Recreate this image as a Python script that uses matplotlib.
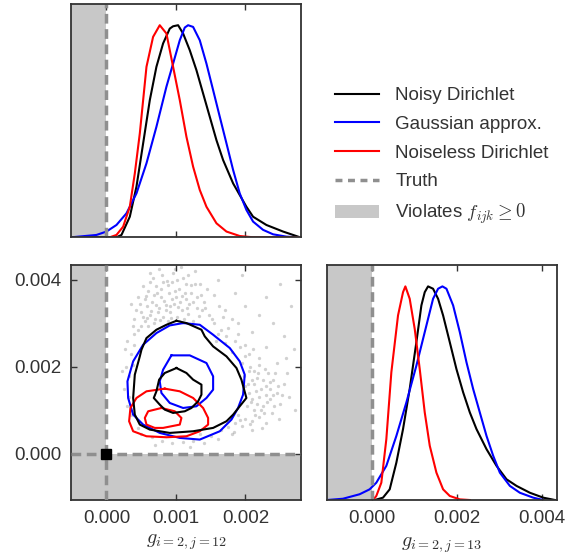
import numpy as np
import matplotlib
matplotlib.use("Agg")
from matplotlib import pyplot as plt
from matplotlib.lines import Line2D
from matplotlib.patches import Patch

plt.rcParams["font.family"] = ["Liberation Sans", "DejaVu Sans"]
plt.rcParams["mathtext.fontset"] = "cm"
plt.rcParams["font.size"] = 13

# all values in units of 1e-3
# marginal of g_{i=2,j=12} (top panel)
top_black_x = [-0.504, 0.144, 0.216, 0.336, 0.432, 0.528, 0.624, 0.719, 0.815, 0.911, 0.959, 1.031,
               1.103, 1.199, 1.295, 1.391, 1.487, 1.583, 1.679, 1.823, 2.014, 2.110, 2.302, 2.542, 2.758]
top_black_y = [0, 0, 0.011, 0.097, 0.239, 0.443, 0.647, 0.804, 0.914, 0.984, 0.995, 1.000,
               0.961, 0.882, 0.788, 0.678, 0.568, 0.458, 0.364, 0.254, 0.144, 0.097, 0.058, 0.027, 0.003]
top_blue_x = [-0.504, -0.144, 0.0, 0.144, 0.288, 0.432, 0.576, 0.719, 0.863, 0.959, 1.055, 1.127, 1.175,
              1.247, 1.343, 1.439, 1.535, 1.631, 1.727, 1.823, 1.918, 2.014, 2.110, 2.254, 2.398, 2.590, 2.758]
top_blue_y = [0, 0.011, 0.027, 0.058, 0.113, 0.207, 0.349, 0.521, 0.710, 0.819, 0.929, 0.989, 1.000,
              0.992, 0.929, 0.819, 0.694, 0.568, 0.443, 0.317, 0.207, 0.129, 0.074, 0.035, 0.014, 0.003, 0]
top_red_x = [0.048, 0.144, 0.240, 0.336, 0.408, 0.480, 0.576, 0.671, 0.767, 0.863, 0.959, 1.055,
             1.151, 1.247, 1.343, 1.439, 1.583, 1.727, 1.918, 2.110, 2.758]
top_red_y = [0, 0.011, 0.050, 0.144, 0.301, 0.490, 0.804, 0.945, 1.000, 0.961, 0.804, 0.647,
             0.474, 0.333, 0.223, 0.144, 0.066, 0.027, 0.006, 0, 0]

# marginal of g_{i=2,j=13} (bottom right panel)
br_black_x = [0.055, 0.251, 0.409, 0.566, 0.723, 0.880, 1.037, 1.155, 1.234, 1.312, 1.430, 1.548, 1.666,
              1.823, 1.980, 2.138, 2.295, 2.452, 2.688, 2.923, 3.159, 3.395, 3.709, 4.024, 4.299]
br_black_y = [0, 0.011, 0.050, 0.175, 0.332, 0.520, 0.739, 0.911, 0.973, 1.000, 0.989, 0.942, 0.864,
              0.739, 0.613, 0.504, 0.410, 0.332, 0.238, 0.160, 0.097, 0.066, 0.034, 0.011, 0]
br_blue_x = [-1.069, -0.692, -0.299, -0.063, 0.094, 0.330, 0.566, 0.802, 1.037, 1.273, 1.430, 1.548, 1.650,
             1.745, 1.902, 2.059, 2.216, 2.373, 2.530, 2.688, 2.845, 3.002, 3.238, 3.473, 3.788, 4.024]
br_blue_y = [0, 0.006, 0.027, 0.050, 0.081, 0.160, 0.300, 0.457, 0.629, 0.817, 0.942, 0.989, 1.000,
             0.989, 0.911, 0.786, 0.645, 0.520, 0.410, 0.300, 0.207, 0.128, 0.066, 0.034, 0.011, 0]
br_red_x = [0.016, 0.094, 0.212, 0.330, 0.448, 0.605, 0.723, 0.778, 0.880, 0.998, 1.116, 1.234,
            1.352, 1.509, 1.666, 1.823, 2.059, 2.295]
br_red_y = [0, 0.019, 0.081, 0.285, 0.598, 0.864, 0.973, 1.000, 0.942, 0.801, 0.613, 0.410,
            0.254, 0.128, 0.050, 0.019, 0.003, 0]

# joint contours (x = j=12, y = j=13)
black_outer_x = [1.007, 1.151, 1.367, 1.415, 1.535, 1.727, 1.871, 1.942, 2.014, 1.918, 1.823, 1.727, 1.535,
                 1.247, 0.911, 0.624, 0.480, 0.408, 0.384, 0.408, 0.480, 0.504, 0.576, 0.719, 0.863]
black_outer_y = [3.059, 3.006, 2.853, 2.700, 2.470, 2.241, 1.973, 1.706, 1.285, 1.094, 0.902, 0.750, 0.597,
                 0.520, 0.482, 0.558, 0.673, 0.902, 1.285, 1.820, 2.241, 2.394, 2.662, 2.853, 2.967]
black_inner_x = [1.007, 1.151, 1.247, 1.367, 1.367, 1.319, 1.223, 1.127, 0.959, 0.839, 0.767, 0.681,
                 0.719, 0.758, 0.839]
black_inner_y = [1.973, 1.859, 1.706, 1.591, 1.361, 1.208, 1.055, 0.979, 0.941, 1.017, 1.132, 1.285,
                 1.438, 1.706, 1.859]
blue_outer_x = [1.103, 1.343, 1.535, 1.775, 1.918, 1.990, 1.966, 1.894, 1.799, 1.631, 1.343, 1.055, 0.767,
                0.528, 0.384, 0.312, 0.302, 0.384, 0.528, 0.719, 0.911]
blue_outer_y = [3.006, 2.967, 2.738, 2.432, 2.126, 1.820, 1.361, 1.055, 0.788, 0.520, 0.329, 0.367, 0.482,
                0.673, 0.902, 1.285, 1.667, 2.126, 2.509, 2.776, 2.952]
blue_inner_x = [0.935, 1.199, 1.439, 1.535, 1.535, 1.439, 1.295, 1.103, 0.911, 0.791, 0.767, 0.815]
blue_inner_y = [2.264, 2.264, 2.088, 1.782, 1.476, 1.285, 1.094, 1.055, 1.170, 1.400, 1.667, 1.935]
red_outer_x = [0.839, 1.055, 1.247, 1.391, 1.463, 1.463, 1.343, 1.151, 0.863, 0.576, 0.384, 0.326,
               0.345, 0.432, 0.576]
red_outer_y = [1.499, 1.438, 1.285, 1.055, 0.826, 0.673, 0.520, 0.405, 0.382, 0.405, 0.520, 0.750,
               1.055, 1.285, 1.438]
red_inner_x = [0.791, 0.983, 1.079, 1.055, 0.935, 0.815, 0.695, 0.576, 0.552, 0.600]
red_inner_y = [1.055, 0.979, 0.826, 0.673, 0.635, 0.597, 0.597, 0.673, 0.826, 0.979]

# posterior samples (only those outside the outer contour show)
samples_x = [0.55, 0.62, 0.70, 0.75, 0.82, 0.88, 0.92, 0.97, 1.02, 1.08, 1.12, 1.18, 1.25, 1.30, 0.66,
             0.78, 0.85, 0.90, 1.00, 1.05, 1.15, 1.22, 0.58, 0.50, 0.45, 0.72, 0.95, 1.10, 0.80, 1.35,
             1.40, 1.48, 1.55, 0.40, 0.35, 0.60, 0.88, 1.28, 1.60, 0.98, 0.68, 0.83, 1.03, 1.19, 0.74,
             0.93, 1.14, 0.52, 1.45, 0.62, 0.45, 0.50, 0.40, 0.60,
             0.58, 0.64, 0.71, 0.77, 0.86, 0.94, 1.06, 1.16, 1.24, 1.33, 0.69, 0.79, 0.87, 0.99, 1.09,
             1.21, 1.31, 0.55, 0.63, 0.73, 0.91, 1.01, 1.13, 1.27, 1.38, 0.48, 0.57, 0.67, 0.81, 0.96,
             1.07, 1.17, 1.42, 1.52, 0.43, 0.38, 0.53, 0.76, 1.04, 1.36,
             0.30, 0.35, 0.28, 0.33, 0.25, 0.32, 0.30, 0.36, 0.40, 0.38, 0.27, 0.22,
             1.95, 2.05, 2.10, 2.00, 2.15, 2.20, 2.08, 2.25, 2.12, 2.30, 2.35, 2.18, 2.28, 2.40, 2.45,
             1.90, 2.00, 1.85, 1.95, 2.10, 2.20, 2.38, 2.50, 2.55, 2.05, 2.20, 1.80, 1.70, 1.85, 2.00,
             2.30, 2.45, 2.60, 2.62, 2.48, 1.75, 1.65, 2.05, 2.12, 2.25, 1.98, 2.35, 2.17, 2.30, 2.10,
             2.42, 1.60, 1.75, 1.90, 2.10,
             1.88, 1.96, 2.03, 2.09, 2.16, 2.23, 2.31, 2.39, 1.92, 2.02, 2.14, 2.27, 2.36, 2.06, 2.19,
             2.33, 1.99, 2.11, 2.24, 2.41, 2.52, 2.58, 1.83, 1.78, 1.92, 2.07, 2.29, 2.47, 2.13, 2.22,
             1.58, 1.65, 1.72, 1.80, 1.55, 1.68, 1.90, 1.62,
             2.20, 2.40, 2.55, 2.65, 2.30, 2.00, 1.85, 2.50, 2.70, 2.72, 1.70, 1.95,
             0.50, 0.65, 0.80, 0.95, 1.10, 1.25, 1.40, 1.50, 1.60, 0.45, 0.70, 1.20, 1.80, 1.35]
samples_y = [3.05, 3.20, 3.10, 3.35, 3.15, 3.05, 3.25, 3.45, 3.15, 3.30, 3.10, 3.22, 3.05, 3.35, 3.50,
             3.60, 3.42, 3.70, 3.60, 3.80, 3.55, 3.70, 3.40, 3.25, 3.60, 3.85, 3.95, 4.05, 4.10, 3.90,
             3.50, 3.20, 3.65, 3.10, 3.45, 3.75, 3.88, 4.20, 4.00, 4.25, 3.00, 3.52, 3.38, 3.45, 3.25,
             3.12, 3.90, 3.85, 3.80, 4.15, 2.85, 2.95, 2.75, 2.95,
             3.12, 3.28, 3.42, 3.08, 3.30, 3.55, 3.48, 3.35, 3.50, 3.18, 3.65, 3.80, 3.98, 3.75, 3.62,
             3.88, 3.60, 3.55, 3.95, 3.70, 3.40, 4.00, 3.70, 3.90, 3.30, 3.45, 3.62, 4.05, 3.95, 4.15,
             4.30, 4.10, 3.35, 3.10, 3.30, 2.95, 3.15, 4.25, 3.05, 3.65,
             2.60, 2.30, 2.00, 1.80, 1.50, 1.30, 1.10, 0.90, 2.50, 2.05, 2.40, 1.90,
             2.10, 1.90, 1.70, 1.55, 1.45, 1.30, 1.20, 1.10, 1.00, 1.55, 1.25, 1.85, 1.95, 1.70, 1.40,
             0.90, 0.80, 0.70, 0.65, 0.75, 0.85, 0.95, 1.15, 1.60, 2.30, 2.20, 2.35, 2.55, 2.60, 2.50,
             2.45, 2.10, 1.85, 1.30, 0.80, 0.62, 0.55, 1.40, 1.60, 1.70, 1.80, 1.50, 1.15, 0.70, 0.55,
             1.85, 2.75, 2.90, 3.00, 2.80,
             1.05, 1.35, 1.60, 1.25, 1.75, 1.50, 1.20, 1.35, 0.78, 1.10, 0.90, 0.95, 1.65, 2.00, 2.05,
             1.85, 2.25, 2.40, 0.60, 1.10, 1.35, 2.20, 0.50, 0.85, 2.45, 0.68, 1.35, 1.55, 1.90, 1.00,
             2.60, 2.85, 2.70, 3.10, 3.00, 3.15, 2.75, 3.40,
             3.20, 3.00, 2.70, 3.40, 3.60, 3.40, 3.70, 3.90, 2.40, 1.00, 3.30, 4.10,
             0.45, 0.38, 0.30, 0.25, 0.28, 0.30, 0.25, 0.40, 0.35, 0.60, 0.20, 0.15, 0.45, 0.45]

s = 1e-3
gray_fill = "#c8c8c8"
truth_col = "#8f8f8f"
frame_col = "#333333"
lim12 = (-0.51 * s, 2.80 * s)
lim13 = (-1.06 * s, 4.34 * s)

fig = plt.figure(figsize=(5.76, 5.57), dpi=100)
ax_top = fig.add_axes([0.1233, 0.574, 0.3993, 0.4188])
ax_joint = fig.add_axes([0.1233, 0.1023, 0.3993, 0.4219])
ax_right = fig.add_axes([0.5682, 0.1023, 0.3983, 0.4219])

for ax in (ax_top, ax_joint, ax_right):
    for sp in ax.spines.values():
        sp.set_color(frame_col)
        sp.set_linewidth(1.3)
    ax.tick_params(direction="in", length=4, width=1, color=frame_col,
                   labelcolor=frame_col, top=True, right=True, labelsize=13.5, pad=7)

# top marginal
ax_top.axvspan(-1, 0, color=gray_fill, lw=0, zorder=0)
ax_top.plot(np.array(top_black_x) * s, top_black_y, color="k", lw=1.5)
ax_top.plot(np.array(top_blue_x) * s, top_blue_y, color="b", lw=1.5)
ax_top.plot(np.array(top_red_x) * s, top_red_y, color="r", lw=1.5)
ax_top.axvline(0, color=truth_col, lw=2.5, dashes=(2.8, 1.6))
ax_top.set_xlim(lim12)
ax_top.set_ylim(0, 1.1)
ax_top.set_xticks([0, 0.001, 0.002])
ax_top.set_xticklabels([])
ax_top.set_yticks([])

# joint
ax_joint.axvspan(-1, 0, color=gray_fill, lw=0, zorder=0)
ax_joint.axhspan(-1, 0, color=gray_fill, lw=0, zorder=0)
ax_joint.plot(np.array(samples_x) * s, np.array(samples_y) * s, "o", ms=2.4,
              color="k", alpha=0.18, mec="none", zorder=1)
ax_joint.fill(np.array(black_outer_x) * s, np.array(black_outer_y) * s, color="white", zorder=2)
for cx, cy, col in [(blue_outer_x, blue_outer_y, "b"), (blue_inner_x, blue_inner_y, "b"),
                    (red_outer_x, red_outer_y, "r"), (red_inner_x, red_inner_y, "r"),
                    (black_outer_x, black_outer_y, "k"), (black_inner_x, black_inner_y, "k")]:
    ax_joint.plot(np.array(cx + cx[:1]) * s, np.array(cy + cy[:1]) * s, color=col, lw=1.5, zorder=3)
ax_joint.axvline(0, color=truth_col, lw=2.5, dashes=(2.8, 1.6), zorder=4)
ax_joint.axhline(0, color=truth_col, lw=2.5, dashes=(2.8, 1.6), zorder=4)
ax_joint.plot([0], [0], "s", color="k", ms=7, zorder=5)
ax_joint.set_xlim(lim12)
ax_joint.set_ylim(lim13)
ax_joint.set_xticks([0, 0.001, 0.002])
ax_joint.set_xticklabels(["0.000", "0.001", "0.002"])
ax_joint.set_yticks([0, 0.002, 0.004])
ax_joint.set_yticklabels(["0.000", "0.002", "0.004"])
ax_joint.set_xlabel(r"$g_{i=2,j=12}$", fontsize=14.5, color=frame_col, labelpad=4)

# right marginal
ax_right.axvspan(-1, 0, color=gray_fill, lw=0, zorder=0)
ax_right.plot(np.array(br_black_x) * s, br_black_y, color="k", lw=1.5)
ax_right.plot(np.array(br_blue_x) * s, br_blue_y, color="b", lw=1.5)
ax_right.plot(np.array(br_red_x) * s, br_red_y, color="r", lw=1.5)
ax_right.axvline(0, color=truth_col, lw=2.5, dashes=(2.8, 1.6))
ax_right.set_xlim(lim13)
ax_right.set_ylim(0, 1.1)
ax_right.set_xticks([0, 0.002, 0.004])
ax_right.set_xticklabels(["0.000", "0.002", "0.004"])
ax_right.set_yticks([])
ax_right.set_xlabel(r"$g_{i=2,j=13}$", fontsize=14.5, color=frame_col, labelpad=6)

handles = [Line2D([], [], color="k", lw=1.5),
           Line2D([], [], color="b", lw=1.5),
           Line2D([], [], color="r", lw=1.5),
           Line2D([], [], color=truth_col, lw=2.5, dashes=(2.0, 1.6)),
           Patch(facecolor=gray_fill, edgecolor="none")]
labels = ["Noisy Dirichlet", "Gaussian approx.", "Noiseless Dirichlet", "Truth",
          r"Violates $f_{ijk} \geq 0$"]
leg = fig.legend(handles, labels, loc="upper left", bbox_to_anchor=(0.553, 0.874),
                 frameon=False, fontsize=13.5, handlelength=2.3, handletextpad=0.9,
                 labelspacing=0.62)
for t in leg.get_texts():
    t.set_color(frame_col)

fig.savefig("out.png", dpi=100)
